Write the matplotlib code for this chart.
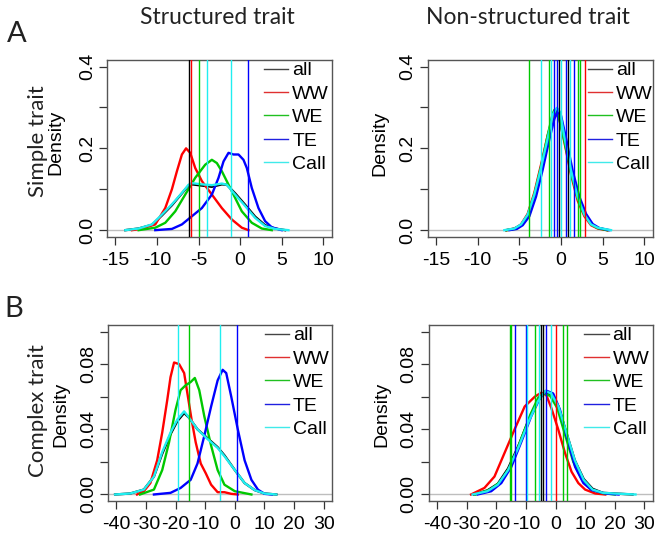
import matplotlib
matplotlib.use('Agg')
import matplotlib.pyplot as plt
from matplotlib.lines import Line2D

# ---------------- data ----------------
groups = ['all', 'WW', 'WE', 'TE', 'Call']
col_titles = ['Structured trait', 'Non-structured trait']
row_labels = ['Simple trait', 'Complex trait']
panel_letters = ['A', 'B']

# Top-left: structured, simple trait
tl_all_x = [-13.8, -12.2, -10.6, -9.4, -8.2, -7.0, -6.2, -5.8, -4.6, -3.4, -2.2, -1.6, -0.6, 0.6, 1.8, 3.0, 4.2, 5.4]
tl_all_y = [0, 0.004, 0.013, 0.036, 0.061, 0.090, 0.109, 0.112, 0.109, 0.106, 0.112, 0.111, 0.090, 0.062, 0.033, 0.012, 0.004, 0]
tl_ww_x = [-13.0, -12.0, -10.2, -9.0, -8.2, -7.6, -7.0, -6.5, -6.0, -5.4, -4.6, -3.4, -2.2, -1.0, 0.2, 1.0]
tl_ww_y = [0, 0.003, 0.014, 0.054, 0.100, 0.144, 0.185, 0.200, 0.189, 0.152, 0.120, 0.087, 0.054, 0.026, 0.006, 0]
tl_we_x = [-12.2, -10.2, -9.0, -7.8, -6.6, -5.4, -4.2, -3.4, -2.8, -2.2, -1.0, 0.2, 1.4, 2.6, 3.8]
tl_we_y = [0, 0.006, 0.018, 0.046, 0.087, 0.128, 0.160, 0.172, 0.164, 0.144, 0.095, 0.046, 0.018, 0.004, 0]
tl_te_x = [-10.2, -8.2, -7.0, -5.8, -4.6, -3.4, -2.6, -2.0, -1.4, -0.8, -0.2, 0.4, 0.8, 1.4, 2.2, 3.0, 3.8, 5.0]
tl_te_y = [0, 0.003, 0.014, 0.034, 0.054, 0.087, 0.128, 0.168, 0.189, 0.185, 0.185, 0.172, 0.152, 0.103, 0.054, 0.022, 0.007, 0]
tl_call_x = [-13.8, -12.2, -10.6, -9.4, -8.2, -7.0, -6.2, -5.8, -4.6, -3.4, -2.2, -1.6, -0.6, 0.6, 1.8, 3.0, 4.2, 5.8]
tl_call_y = [0, 0.004, 0.014, 0.038, 0.063, 0.091, 0.111, 0.115, 0.112, 0.110, 0.114, 0.111, 0.087, 0.059, 0.030, 0.010, 0.003, 0]
tl_vline_x = [-6.1, -5.9, -5.0, -4.0, -1.1, 1.0]
tl_vline_group = ['all', 'WW', 'WE', 'Call', 'Call', 'TE']

# Top-right: non-structured, simple trait
tr_all_x = [-6.6, -5.6, -4.8, -4.0, -3.2, -2.4, -1.6, -1.0, -0.5, -0.1, 0.4, 1.2, 2.0, 2.8, 3.6, 4.4, 5.6]
tr_all_y = [0, 0.004, 0.013, 0.037, 0.085, 0.150, 0.222, 0.276, 0.291, 0.282, 0.226, 0.146, 0.081, 0.039, 0.015, 0.006, 0]
tr_ww_x = [-6.5, -5.5, -4.8, -4.0, -3.2, -2.4, -1.6, -1.0, -0.6, -0.2, 0.4, 1.2, 2.0, 2.8, 3.6, 4.4, 5.5]
tr_ww_y = [0, 0.004, 0.014, 0.040, 0.092, 0.160, 0.232, 0.275, 0.285, 0.272, 0.215, 0.135, 0.072, 0.034, 0.012, 0.004, 0]
tr_we_x = [-6.5, -5.5, -4.8, -4.0, -3.2, -2.4, -1.6, -1.0, -0.8, -0.3, 0.4, 1.2, 2.0, 2.8, 3.6, 4.4, 5.5]
tr_we_y = [0, 0.003, 0.012, 0.036, 0.088, 0.155, 0.232, 0.285, 0.294, 0.278, 0.218, 0.140, 0.078, 0.038, 0.014, 0.005, 0]
tr_te_x = [-6.2, -5.3, -4.6, -3.8, -3.0, -2.2, -1.4, -0.8, -0.4, 0.0, 0.6, 1.4, 2.2, 3.0, 3.8, 4.6, 5.8]
tr_te_y = [0, 0.003, 0.012, 0.034, 0.082, 0.148, 0.222, 0.272, 0.290, 0.280, 0.225, 0.145, 0.082, 0.040, 0.015, 0.005, 0]
tr_call_x = [-6.8, -5.6, -4.8, -4.0, -3.2, -2.4, -1.6, -1.0, -0.5, -0.1, 0.4, 1.2, 2.0, 2.8, 3.6, 4.4, 6.0]
tr_call_y = [0, 0.004, 0.014, 0.038, 0.087, 0.152, 0.225, 0.282, 0.299, 0.288, 0.228, 0.146, 0.080, 0.038, 0.014, 0.006, 0]
tr_vline_x = [-3.88, -2.45, -1.5, -1.2, -0.9, -0.5, -0.3, 0.0, 0.6, 0.85, 1.1, 1.5, 2.0, 2.3, 2.9]
tr_vline_group = ['WE', 'Call', 'WE', 'Call', 'TE', 'TE', 'all', 'Call', 'TE', 'all', 'Call', 'TE', 'WE', 'WE', 'WW']

# Bottom-left: structured, complex trait
bl_all_x = [-40.4, -35.3, -30.7, -27.3, -24.5, -21.7, -19.4, -17.1, -15.4, -12.6, -9.2, -5.8, -3.5, 0, 3.3, 6.7, 10, 14]
bl_all_y = [0, 0.0006, 0.003, 0.011, 0.025, 0.037, 0.045, 0.050, 0.047, 0.040, 0.0345, 0.029, 0.024, 0.015, 0.007, 0.0027, 0.0006, 0]
bl_ww_x = [-33, -30.7, -28.5, -26.2, -24.5, -22.8, -21.7, -20.5, -18.8, -17.1, -16.0, -14.6, -13.2, -11.5, -9.8, -8.0, -5.8, -3.5, -1.2, 1.0]
bl_ww_y = [0, 0.002, 0.007, 0.021, 0.038, 0.058, 0.072, 0.081, 0.080, 0.0745, 0.062, 0.046, 0.032, 0.019, 0.013, 0.006, 0.0014, 0.0014, 0.0004, 0]
bl_we_x = [-32, -27.3, -24.5, -22.2, -20, -18.3, -16.6, -14.9, -13.5, -12, -10.3, -8, -5.8, -3.5, 0, 5.6]
bl_we_y = [0, 0.003, 0.015, 0.032, 0.052, 0.064, 0.067, 0.069, 0.0715, 0.064, 0.048, 0.030, 0.015, 0.006, 0.002, 0]
bl_te_x = [-27.3, -21.7, -18.3, -14.9, -12.6, -10.3, -8, -5.8, -4.1, -2.9, -1.2, 1, 3.3, 5.6, 7.8, 10, 12.5]
bl_te_y = [0, 0.001, 0.004, 0.009, 0.019, 0.036, 0.054, 0.070, 0.0765, 0.0745, 0.060, 0.040, 0.021, 0.009, 0.003, 0.0004, 0]
bl_call_x = [-40.4, -35.3, -30.7, -27.3, -24.5, -21.7, -19.4, -17.1, -15.4, -12.6, -9.2, -5.8, -3.5, 0, 3.3, 6.7, 10, 14]
bl_call_y = [0, 0.0006, 0.003, 0.011, 0.026, 0.038, 0.046, 0.051, 0.047, 0.040, 0.034, 0.0286, 0.0235, 0.015, 0.007, 0.0027, 0.0006, 0]
bl_vline_x = [-19.2, -15.3, -5.1, 0.6]
bl_vline_group = ['Call', 'WE', 'Call', 'TE']

# Bottom-right: non-structured, complex trait
br_all_x = [-27.5, -23, -19.5, -16, -12.5, -9, -6, -3.8, -1.5, 1, 3.5, 6.5, 9.5, 12.5, 16, 20, 26]
br_all_y = [0, 0.0025, 0.0065, 0.016, 0.030, 0.046, 0.0575, 0.0625, 0.0615, 0.054, 0.039, 0.021, 0.0095, 0.0035, 0.001, 0.0006, 0]
br_ww_x = [-28.5, -24, -20.6, -17.2, -13.8, -10.4, -7, -4.8, -3.1, -1.4, 0.9, 3.2, 5.4, 7.7, 10, 13.4, 16.8]
br_ww_y = [0, 0.004, 0.011, 0.0255, 0.040, 0.054, 0.060, 0.0625, 0.061, 0.053, 0.040, 0.0255, 0.014, 0.007, 0.003, 0.0006, 0]
br_we_x = [-27, -22, -18.5, -15, -11.8, -8.5, -5.8, -4.0, -1.8, 0.6, 3.0, 6.0, 9.0, 12, 16, 20]
br_we_y = [0, 0.003, 0.008, 0.018, 0.033, 0.049, 0.0595, 0.062, 0.0605, 0.053, 0.038, 0.020, 0.009, 0.003, 0.0008, 0]
br_te_x = [-26.3, -21.7, -18.3, -14.9, -11.6, -8.2, -5.3, -3.1, -0.8, 1.5, 3.7, 6.6, 9.4, 12.2, 16.8, 21.3]
br_te_y = [0, 0.002, 0.007, 0.017, 0.032, 0.048, 0.059, 0.0637, 0.062, 0.052, 0.036, 0.017, 0.007, 0.0027, 0.0006, 0]
br_call_x = [-28, -23, -19.5, -16, -12.5, -9, -6, -3.5, -1.5, 1, 3.5, 6.5, 9.5, 12.5, 16, 20, 27]
br_call_y = [0, 0.002, 0.006, 0.015, 0.029, 0.045, 0.057, 0.0635, 0.062, 0.054, 0.039, 0.021, 0.009, 0.003, 0.001, 0.0006, 0]
br_vline_x = [-15.4, -15.0, -13.6, -10.1, -9.5, -6.9, -5.7, -4.9, -4.3, -3.2, -1.6, 0.25, 2.5, 3.9]
br_vline_group = ['WE', 'WE', 'TE', 'TE', 'Call', 'WE', 'Call', 'all', 'all', 'TE', 'Call', 'WW', 'WE', 'WE']

top_xticks = [-15, -10, -5, 0, 5, 10]
bottom_xticks = [-40, -30, -20, -10, 0, 10, 20, 30]
top_yticks = [0.0, 0.1, 0.2, 0.3, 0.4]
top_ylabels = ['0.0', '', '0.2', '', '0.4']
bottom_yticks = [0.00, 0.02, 0.04, 0.06, 0.08, 0.10]
bottom_ylabels = ['0.00', '', '0.04', '', '0.08', '']

# ---------------- style ----------------
colors = {'all': '#000000', 'WW': '#ff0000', 'WE': '#00c800', 'TE': '#0000ff', 'Call': '#20eef0'}
legend_colors = {'all': '#444444', 'WW': '#e03030', 'WE': '#20c020', 'TE': '#2020e0', 'Call': '#40eaea'}
TICKFONT = 'Liberation Sans'
LABFONT = 'Lato'

W, H = 664, 541
fig = plt.figure(figsize=(W / 100, H / 100), dpi=100)


def ax_rect(left, top, right, bottom):
    return [left / W, 1 - bottom / H, (right - left) / W, (bottom - top) / H]


panels = [
    dict(rect=ax_rect(107, 60, 331.7, 236.7), xlim=(-16, 11), ylim=(-0.016, 0.416),
         xticks=top_xticks, yticks=top_yticks, ylabels=top_ylabels,
         data={'all': (tl_all_x, tl_all_y), 'WW': (tl_ww_x, tl_ww_y), 'WE': (tl_we_x, tl_we_y),
               'TE': (tl_te_x, tl_te_y), 'Call': (tl_call_x, tl_call_y)},
         vx=tl_vline_x, vg=tl_vline_group, leg=(0.699, 0.99)),
    dict(rect=ax_rect(427.7, 60, 652.7, 236.7), xlim=(-16, 11), ylim=(-0.016, 0.416),
         xticks=top_xticks, yticks=top_yticks, ylabels=top_ylabels,
         data={'all': (tr_all_x, tr_all_y), 'WW': (tr_ww_x, tr_ww_y), 'WE': (tr_we_x, tr_we_y),
               'TE': (tr_te_x, tr_te_y), 'Call': (tr_call_x, tr_call_y)},
         vx=tr_vline_x, vg=tr_vline_group, leg=(0.711, 0.99)),
    dict(rect=ax_rect(108, 325, 332, 501), xlim=(-42.8, 32.8), ylim=(-0.004, 0.104),
         xticks=bottom_xticks, yticks=bottom_yticks, ylabels=bottom_ylabels,
         data={'all': (bl_all_x, bl_all_y), 'WW': (bl_ww_x, bl_ww_y), 'WE': (bl_we_x, bl_we_y),
               'TE': (bl_te_x, bl_te_y), 'Call': (bl_call_x, bl_call_y)},
         vx=bl_vline_x, vg=bl_vline_group, leg=(0.699, 0.99)),
    dict(rect=ax_rect(428.7, 325, 652.7, 501), xlim=(-42.8, 32.8), ylim=(-0.004, 0.104),
         xticks=bottom_xticks, yticks=bottom_yticks, ylabels=bottom_ylabels,
         data={'all': (br_all_x, br_all_y), 'WW': (br_ww_x, br_ww_y), 'WE': (br_we_x, br_we_y),
               'TE': (br_te_x, br_te_y), 'Call': (br_call_x, br_call_y)},
         vx=br_vline_x, vg=br_vline_group, leg=(0.695, 0.99)),
]

for p in panels:
    ax = fig.add_axes(p['rect'])
    ax.set_xlim(*p['xlim'])
    ax.set_ylim(*p['ylim'])
    ax.axhline(0, color='#bebebe', lw=1.0, zorder=1)
    for g in groups:
        xs, ys = p['data'][g]
        ax.plot(xs, ys, color=colors[g], lw=1.7, zorder=2, solid_joinstyle='round')
    for xv, g in zip(p['vx'], p['vg']):
        ax.axvline(xv, color=colors[g], lw=1.0, zorder=3)
    ax.set_xticks(p['xticks'])
    ax.set_xticklabels([str(t) for t in p['xticks']], fontfamily=TICKFONT, fontsize=14)
    ax.set_yticks(p['yticks'])
    ax.set_yticklabels(p['ylabels'], fontfamily=TICKFONT, fontsize=14, rotation=90, va='center')
    ax.tick_params(direction='out', length=6, width=0.9, color='#333333', pad=2)
    ax.tick_params(axis='x', pad=5)
    for s in ax.spines.values():
        s.set_color('#555555')
        s.set_linewidth(1.0)
    handles = [Line2D([0], [0], color=legend_colors[g], lw=1.0) for g in groups]
    ax.legend(handles, groups, loc='upper left', bbox_to_anchor=p['leg'], frameon=False,
              prop={'family': TICKFONT, 'size': 14}, handlelength=1.25, handletextpad=0.2,
              labelspacing=0.3, borderaxespad=0, borderpad=0)

# titles, panel letters, row labels
fig.text(217.5 / W, 1 - 17 / H, col_titles[0], family=LABFONT, fontsize=16.5, ha='center', va='center', color='#222222')
fig.text(528 / W, 1 - 17 / H, col_titles[1], family=LABFONT, fontsize=16.5, ha='center', va='center', color='#222222')
fig.text(17 / W, 1 - 34 / H, panel_letters[0], family=LABFONT, fontsize=21, ha='center', va='center', color='#222222')
fig.text(14 / W, 1 - 309 / H, panel_letters[1], family=LABFONT, fontsize=21, ha='center', va='center', color='#222222')
fig.text(38 / W, 1 - 141 / H, row_labels[0], family=LABFONT, fontsize=16, rotation=90, ha='center', va='center', color='#222222')
fig.text(38 / W, 1 - 411 / H, row_labels[1], family=LABFONT, fontsize=16, rotation=90, ha='center', va='center', color='#222222')
for (xc, yc) in [(56, 142), (379.5, 143), (61, 414), (381.7, 414)]:
    fig.text(xc / W, 1 - yc / H, 'Density', family=TICKFONT, fontsize=14, rotation=90, ha='center', va='center')

fig.savefig('out.png', dpi=100)
